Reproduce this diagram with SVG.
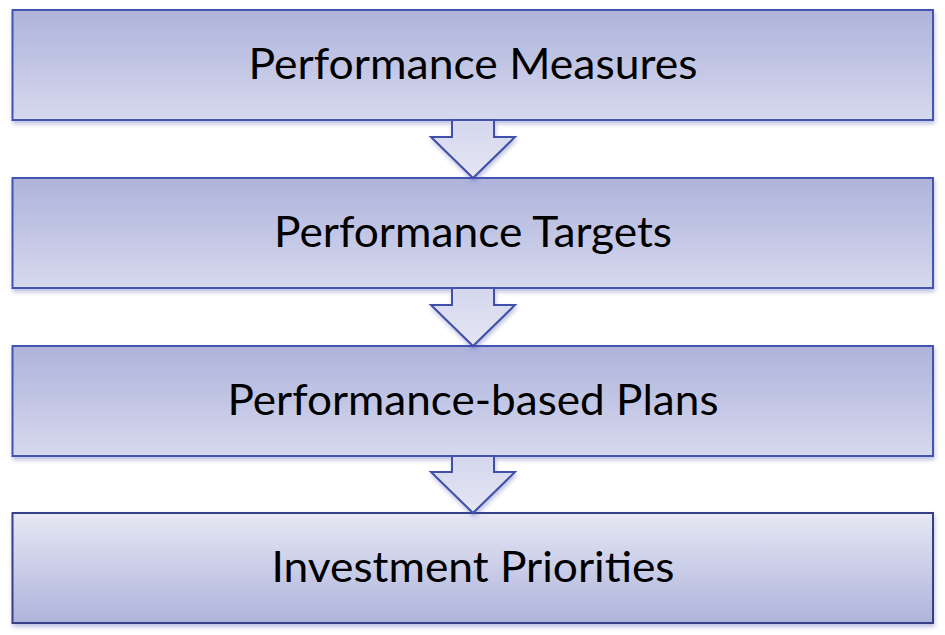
<svg xmlns="http://www.w3.org/2000/svg" width="945" height="635" viewBox="0 0 945 635">
<defs>
<linearGradient id="gBox" x1="0" y1="0" x2="0" y2="1">
<stop offset="0" stop-color="#aeb3db"/>
<stop offset="1" stop-color="#d6d9ee"/>
</linearGradient>
<linearGradient id="gLast" x1="0" y1="0" x2="0" y2="1">
<stop offset="0" stop-color="#e6e8f4"/>
<stop offset="1" stop-color="#aeb3db"/>
</linearGradient>
<linearGradient id="gArrow" x1="0" y1="0" x2="0" y2="1">
<stop offset="0" stop-color="#d4d7ed"/>
<stop offset="1" stop-color="#e4e6f3"/>
</linearGradient>
<filter id="sh" x="-5%" y="-10%" width="110%" height="130%">
<feDropShadow dx="1" dy="3" stdDeviation="2" flood-color="#3f4fa8" flood-opacity="0.35"/>
</filter>
</defs>
<style>
.box{fill:url(#gBox);stroke:#4353b0;stroke-width:2;filter:url(#sh)}
.last{fill:url(#gLast);stroke:#343f88;stroke-width:2;filter:url(#sh)}
.arr{fill:url(#gArrow);stroke:#3f4fa8;stroke-width:2;stroke-linejoin:miter;filter:url(#sh)}
.t{font-family:Lato,"Liberation Sans",sans-serif;font-size:42px;fill:#000;text-anchor:middle}
</style>
<g id="node1"><rect class="box" x="12.5" y="10" width="920.5" height="110"/>
<text class="t" x="473" y="79" textLength="449" lengthAdjust="spacingAndGlyphs">Performance Measures</text></g>
<g id="node2"><rect class="box" x="12.5" y="178" width="920.5" height="110"/>
<text class="t" x="473" y="247" textLength="398" lengthAdjust="spacingAndGlyphs">Performance Targets</text></g>
<g id="node3"><rect class="box" x="12.5" y="346" width="920.5" height="110"/>
<text class="t" x="473" y="415" textLength="491" lengthAdjust="spacingAndGlyphs">Performance-based Plans</text></g>
<g id="node4"><rect class="last" x="12.5" y="513" width="920.5" height="110"/>
<text class="t" x="473" y="582" textLength="403" lengthAdjust="spacingAndGlyphs">Investment Priorities</text></g>
<g id="connectors">
<path class="arr" d="M452,121 L452,137 L431,137 L473,178 L515,137 L494,137 L494,121"/>
<path class="arr" d="M452,289 L452,305 L431,305 L473,346 L515,305 L494,305 L494,289"/>
<path class="arr" d="M452,457 L452,472 L431,472 L473,513 L515,472 L494,472 L494,457"/>
</g>
</svg>
